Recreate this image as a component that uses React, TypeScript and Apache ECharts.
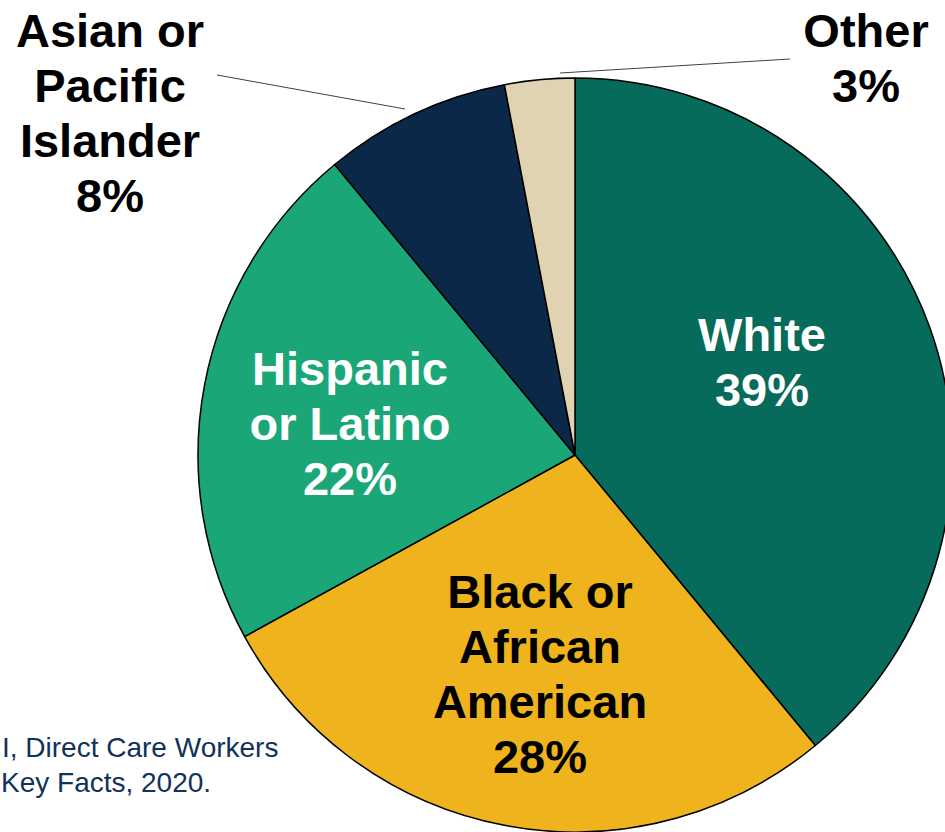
import React, { useEffect, useRef } from "react";
import * as echarts from "echarts";

const categories = [
  "White",
  "Black or African American",
  "Hispanic or Latino",
  "Asian or Pacific Islander",
  "Other",
];
const shares = [39, 28, 22, 8, 3];
const wrappedNames = [
  "White",
  "Black or\nAfrican\nAmerican",
  "Hispanic\nor Latino",
  "Asian or\nPacific\nIslander",
  "Other",
];
const sourceLines = ["I, Direct Care Workers", "Key Facts, 2020."];

const sliceColors = ["#076b5b", "#efb31e", "#1aa676", "#0c2848", "#e0d3b2"];
const labelColors = ["#ffffff", "#000000", "#ffffff", "#000000", "#000000"];
const labelInside = [true, true, true, false, false];
const labelCenters = [
  [762, 362],
  [540, 674],
  [350, 423],
  [110, 113],
  [866, 58],
];
const leaderPoints: Record<number, number[][]> = {
  3: [
    [405, 109],
    [217, 75],
    [217, 75],
  ],
  4: [
    [560, 73],
    [790, 59],
    [790, 59],
  ],
};

const FONT = '"Liberation Sans", Arial, Helvetica, sans-serif';

export default function App() {
  const ref = useRef<HTMLDivElement>(null);
  useEffect(() => {
    if (!ref.current) return;
    const chart = echarts.init(ref.current, undefined, { renderer: "svg" });
    chart.setOption({
      animation: false,
      backgroundColor: "#ffffff",
      series: [
        {
          type: "pie",
          center: [575, 455],
          radius: 377,
          startAngle: 90,
          clockwise: true,
          avoidLabelOverlap: false,
          itemStyle: { borderColor: "#000000", borderWidth: 1.5 },
          label: {
            fontFamily: FONT,
            fontWeight: "bold",
            fontSize: 47,
            lineHeight: 55,
            align: "center",
            formatter: (p: any) => `${wrappedNames[p.dataIndex]}\n${p.value}%`,
          },
          labelLine: {
            lineStyle: { color: "#404040", width: 1 },
          },
          labelLayout: (params: any) => {
            const i = params.dataIndex;
            const res: any = {
              x: labelCenters[i][0],
              y: labelCenters[i][1],
              align: "center",
              verticalAlign: "middle",
            };
            if (leaderPoints[i]) res.labelLinePoints = leaderPoints[i];
            return res;
          },
          data: categories.map((name, i) => ({
            name,
            value: shares[i],
            itemStyle: { color: sliceColors[i] },
            label: {
              position: labelInside[i] ? "inside" : "outside",
              color: labelColors[i],
            },
            labelLine: { show: !labelInside[i] },
          })),
        },
      ],
      graphic: sourceLines.map((t, i) => ({
        type: "text",
        x: i === 0 ? 2 : 1,
        y: i === 0 ? 747 : 782,
        style: {
          text: t,
          fill: "#12325a",
          font: `28px ${FONT}`,
          align: "left",
          verticalAlign: "middle",
        },
      })),
    });
    return () => chart.dispose();
  }, []);
  return (
    <div
      ref={ref}
      style={{ position: "fixed", left: 0, top: 0, width: 945, height: 832 }}
    />
  );
}
